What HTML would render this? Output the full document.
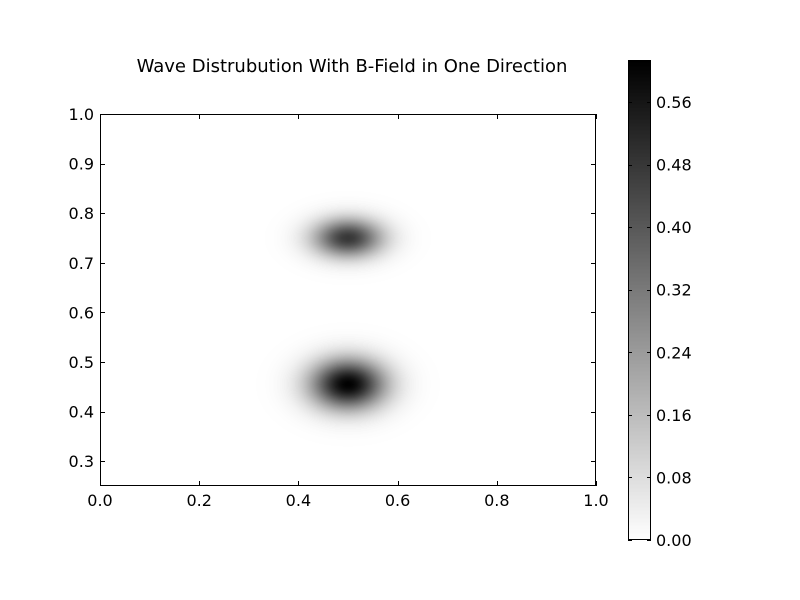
<!DOCTYPE html>
<html><head><meta charset="utf-8"><style>
body{margin:0;background:#fff;width:800px;height:600px;overflow:hidden}
svg text{font-family:"DejaVu Sans","Liberation Sans",sans-serif;font-size:16px;fill:#000}
</style></head><body>
<div style="position:relative;width:800px;height:600px">
<canvas id="heat" width="496" height="372" style="position:absolute;left:100px;top:114px"></canvas>
<canvas id="cbar" width="23" height="480" style="position:absolute;left:628px;top:60px"></canvas>
<svg id="svg" width="800" height="600" style="position:absolute;left:0;top:0">
<text x="352" y="72" text-anchor="middle" style="font-size:18px">Wave Distrubution With B-Field in One Direction</text>
</svg>
</div>
<script>
const blobX = [0.5, 0.5];
const blobY = [0.75, 0.455];
const blobAmp = [0.48, 0.61];
const blobSx = [0.048, 0.052];
const blobSy = [0.027, 0.035];
const xTicks = [0.0, 0.2, 0.4, 0.6, 0.8, 1.0];
const yTicks = [0.3, 0.4, 0.5, 0.6, 0.7, 0.8, 0.9, 1.0];
const cTicks = [0.00, 0.08, 0.16, 0.24, 0.32, 0.40, 0.48, 0.56];
const vmax = 0.6137;

const L=100,T=114,W=496,H=372,X0=0,X1=1,Y0=0.25,Y1=1.0;
const sx=v=>L+(v-X0)/(X1-X0)*W;
const sy=v=>T+H-(v-Y0)/(Y1-Y0)*H;
const CT=60,CB=540,CL=628,CW=23;
const cy=v=>CB-v/vmax*(CB-CT);

const hc=document.getElementById('heat').getContext('2d');
const img=hc.createImageData(W,H);
for(let j=0;j<H;j++){const y=Y1-(j+0.5)/H*(Y1-Y0);
 for(let i=0;i<W;i++){const x=X0+(i+0.5)/W*(X1-X0);let v=0;
  for(let k=0;k<blobX.length;k++){const dx=(x-blobX[k])/blobSx[k],dy=(y-blobY[k])/blobSy[k];v+=blobAmp[k]*Math.exp(-0.5*(dx*dx+dy*dy));}
  const g=Math.round(255*(1-Math.min(1,v/vmax)));const p=(j*W+i)*4;
  img.data[p]=img.data[p+1]=img.data[p+2]=g;img.data[p+3]=255;}}
hc.putImageData(img,0,0);
const cc=document.getElementById('cbar').getContext('2d');
for(let j=0;j<480;j++){const g=Math.round(255*(j/480));cc.fillStyle=`rgb(${g},${g},${g})`;cc.fillRect(0,j,CW,1);}

const svg=document.getElementById('svg');const NS='http://www.w3.org/2000/svg';
function mk(t,a,txt){const e=document.createElementNS(NS,t);for(const k in a)e.setAttribute(k,a[k]);if(txt!==undefined)e.textContent=txt;svg.appendChild(e);return e;}
let r=mk('rect',{x:L+0.5,y:T+0.5,width:W-1,height:H-1,fill:'none',stroke:'#000'});


r=mk('rect',{x:CL+0.5,y:CT+0.5,width:CW-1,height:CB-CT-1,fill:'none',stroke:'#000'});


xTicks.forEach(v=>{const x=Math.round(sx(v))+0.5;
 mk('line',{x1:x,x2:x,y1:T+H,y2:T+H-5,stroke:'#000'});mk('line',{x1:x,x2:x,y1:T,y2:T+5,stroke:'#000'});
 const t=mk('text',{x:sx(v),y:T+H+20,'text-anchor':'middle'},v.toFixed(1));
 
 });
yTicks.forEach(v=>{const y=Math.round(sy(v))+0.5;
 mk('line',{x1:L,x2:L+5,y1:y,y2:y,stroke:'#000'});mk('line',{x1:L+W,x2:L+W-5,y1:y,y2:y,stroke:'#000'});
 const t=mk('text',{x:L-6,y:sy(v)+6,'text-anchor':'end'},v.toFixed(1));
 
 });
cTicks.forEach(v=>{const y=Math.round(cy(v))+0.5;
 mk('line',{x1:CL,x2:CL+4,y1:y,y2:y,stroke:'#000'});mk('line',{x1:CL+CW,x2:CL+CW-4,y1:y,y2:y,stroke:'#000'});
 const t=mk('text',{x:CL+CW+5,y:cy(v)+6},v.toFixed(2));
 
 });
</script>
</body></html>
